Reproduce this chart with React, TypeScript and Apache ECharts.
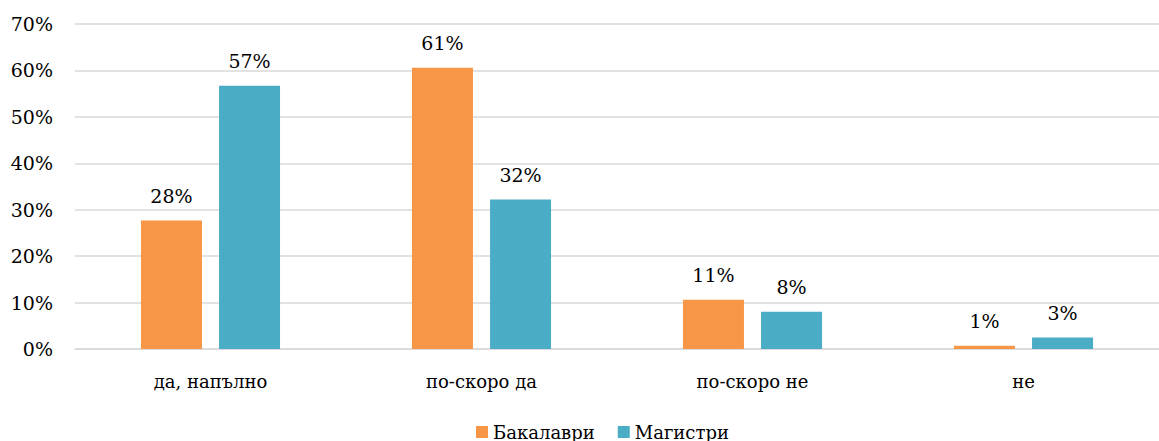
import React, { useEffect, useRef } from "react";
import * as echarts from "echarts";

const categories = ["да, напълно", "по-скоро да", "по-скоро не", "не"];
const bachelors = [27.7, 60.6, 10.6, 0.7];
const masters = [56.7, 32.2, 8.0, 2.5];
const seriesNames = ["Бакалаври", "Магистри"];
const yTicks = [0, 10, 20, 30, 40, 50, 60, 70];

const FONT = "DejaVu Serif";

export default function App() {
  const ref = useRef<HTMLDivElement>(null);
  useEffect(() => {
    if (!ref.current) return;
    const chart = echarts.init(ref.current, undefined, { renderer: "svg" });
    const label = {
      show: true,
      position: "top",
      distance: 15,
      fontFamily: FONT,
      fontSize: 19,
      color: "#000",
      formatter: (p: any) => Math.round(p.value) + "%",
    };
    chart.setOption({
      animation: false,
      textStyle: { fontFamily: FONT },
      grid: { left: 75, right: -16, top: 24, bottom: 92, containLabel: false },
      legend: {
        top: 418,
        left: 471,
        icon: "rect",
        itemWidth: 12,
        itemHeight: 12,
        itemGap: 23,
        textStyle: { fontFamily: FONT, fontSize: 18, color: "#000" },
        data: seriesNames,
      },
      xAxis: {
        type: "category",
        data: categories,
        axisLine: { show: true, lineStyle: { color: "#D9D9D9", width: 1.5 } },
        axisTick: { show: false },
        axisLabel: { fontFamily: FONT, fontSize: 18, color: "#000", margin: 23 },
      },
      yAxis: {
        type: "value",
        min: yTicks[0],
        max: yTicks[yTicks.length - 1],
        interval: 10,
        axisLine: { show: false },
        axisTick: { show: false },
        splitLine: { lineStyle: { color: "#D9D9D9", width: 1.5 } },
        axisLabel: {
          fontFamily: FONT,
          fontSize: 19,
          color: "#000",
          margin: 22,
          formatter: (v: number) => v + "%",
        },
      },
      series: [
        {
          name: seriesNames[0],
          type: "bar",
          data: bachelors,
          barWidth: 61,
          barGap: "28%",
          itemStyle: { color: "#F79646" },
          label,
        },
        {
          name: seriesNames[1],
          type: "bar",
          data: masters,
          barWidth: 61,
          barGap: "28%",
          itemStyle: { color: "#4BACC6" },
          label,
        },
      ],
    });
    return () => chart.dispose();
  }, []);
  return (
    <div
      ref={ref}
      style={{ position: "fixed", left: 0, top: 0, width: 1159, height: 441, background: "#fff" }}
    />
  );
}
